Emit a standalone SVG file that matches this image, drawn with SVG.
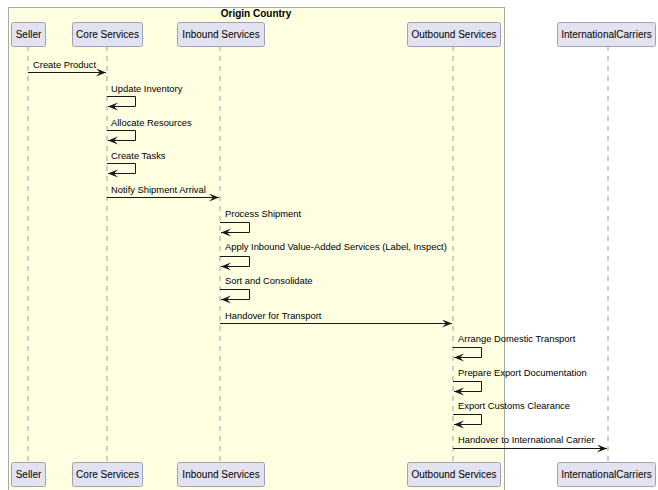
<svg xmlns="http://www.w3.org/2000/svg" width="658" height="490" viewBox="0 0 658 490">
<defs>
<style>
.msg{font-family:"Liberation Sans",Arial,sans-serif;font-size:9.4px;fill:#000}
.pt{font-family:"Liberation Sans",Arial,sans-serif;font-size:10px;fill:#000;text-anchor:middle}
.pbox{fill:#E2E2F0;stroke:#A0A0B8;stroke-width:1}
.life{stroke:#A0A0A0;stroke-width:1;stroke-dasharray:5,5}
.arr{stroke:#181818;stroke-width:1;fill:none}
</style>
<marker id="ah" markerUnits="userSpaceOnUse" markerWidth="12" markerHeight="10" refX="10" refY="4" orient="auto">
<polygon points="0,0 10,4 0,8 4,4" fill="#181818"/>
</marker>
</defs>
<rect width="658" height="490" fill="#FFFFFF"/>
<g id="box-origin">
<rect x="8.5" y="7.5" width="496" height="490" fill="#FEFEE0" stroke="#A8A8A8" stroke-width="1"/>
<text x="256" y="16.5" text-anchor="middle" style="font-family:'Liberation Sans',Arial,sans-serif;font-size:10px;font-weight:bold">Origin Country</text>
</g>
<g id="lifelines">
<line class="life" x1="28" y1="46" x2="28" y2="462"/>
<line class="life" x1="107" y1="46" x2="107" y2="462"/>
<line class="life" x1="220" y1="46" x2="220" y2="462"/>
<line class="life" x1="453" y1="46" x2="453" y2="462"/>
<line class="life" x1="608" y1="46" x2="608" y2="462"/>
</g>
<g id="seller">
<rect class="pbox" x="11.5" y="22.5" width="34" height="24" rx="2"/>
<text class="pt" x="28.5" y="38">Seller</text>
<rect class="pbox" x="11.5" y="462.5" width="34" height="24" rx="2"/>
<text class="pt" x="28.5" y="478">Seller</text>
</g>
<g id="core">
<rect class="pbox" x="72.5" y="22.5" width="70" height="24" rx="2"/>
<text class="pt" x="107.5" y="38">Core Services</text>
<rect class="pbox" x="72.5" y="462.5" width="70" height="24" rx="2"/>
<text class="pt" x="107.5" y="478">Core Services</text>
</g>
<g id="inbound">
<rect class="pbox" x="177.5" y="22.5" width="87" height="24" rx="2"/>
<text class="pt" x="221" y="38">Inbound Services</text>
<rect class="pbox" x="177.5" y="462.5" width="87" height="24" rx="2"/>
<text class="pt" x="221" y="478">Inbound Services</text>
</g>
<g id="outbound">
<rect class="pbox" x="407.5" y="22.5" width="93" height="24" rx="2"/>
<text class="pt" x="454" y="38">Outbound Services</text>
<rect class="pbox" x="407.5" y="462.5" width="93" height="24" rx="2"/>
<text class="pt" x="454" y="478">Outbound Services</text>
</g>
<g id="intl">
<rect class="pbox" x="557.5" y="22.5" width="98" height="24" rx="2"/>
<text class="pt" x="606.5" y="38">InternationalCarriers</text>
<rect class="pbox" x="557.5" y="462.5" width="98" height="24" rx="2"/>
<text class="pt" x="606.5" y="478">InternationalCarriers</text>
</g>
<g id="connectors">
<line class="arr" x1="28" y1="72.5" x2="106" y2="72.5" marker-end="url(#ah)"/>
<text class="msg" x="33" y="68">Create Product</text>
<polyline class="arr" points="107,96.5 135.5,96.5 135.5,106.5 108,106.5" marker-end="url(#ah)"/>
<text class="msg" x="111" y="92">Update Inventory</text>
<polyline class="arr" points="107,130.5 135.5,130.5 135.5,140.5 108,140.5" marker-end="url(#ah)"/>
<text class="msg" x="111" y="125.5">Allocate Resources</text>
<polyline class="arr" points="107,163.5 135.5,163.5 135.5,173.5 108,173.5" marker-end="url(#ah)"/>
<text class="msg" x="111" y="159">Create Tasks</text>
<line class="arr" x1="107" y1="197.5" x2="219" y2="197.5" marker-end="url(#ah)"/>
<text class="msg" x="111" y="193">Notify Shipment Arrival</text>
<polyline class="arr" points="220,222.5 249.5,222.5 249.5,232.5 221,232.5" marker-end="url(#ah)"/>
<text class="msg" x="225" y="216.5">Process Shipment</text>
<polyline class="arr" points="220,256.5 249.5,256.5 249.5,266.5 221,266.5" marker-end="url(#ah)"/>
<text class="msg" x="225" y="250">Apply Inbound Value-Added Services (Label, Inspect)</text>
<polyline class="arr" points="220,289.5 249.5,289.5 249.5,299.5 221,299.5" marker-end="url(#ah)"/>
<text class="msg" x="225" y="284">Sort and Consolidate</text>
<line class="arr" x1="220" y1="323.5" x2="452" y2="323.5" marker-end="url(#ah)"/>
<text class="msg" x="225" y="318.5">Handover for Transport</text>
<polyline class="arr" points="453,347.5 481.5,347.5 481.5,357.5 454,357.5" marker-end="url(#ah)"/>
<text class="msg" x="458" y="341.5">Arrange Domestic Transport</text>
<polyline class="arr" points="453,381.5 481.5,381.5 481.5,391.5 454,391.5" marker-end="url(#ah)"/>
<text class="msg" x="458" y="375.5">Prepare Export Documentation</text>
<polyline class="arr" points="453,414.5 481.5,414.5 481.5,424.5 454,424.5" marker-end="url(#ah)"/>
<text class="msg" x="458" y="409">Export Customs Clearance</text>
<line class="arr" x1="453" y1="448.5" x2="607" y2="448.5" marker-end="url(#ah)"/>
<text class="msg" x="458" y="443">Handover to International Carrier</text>
</g>
</svg>
